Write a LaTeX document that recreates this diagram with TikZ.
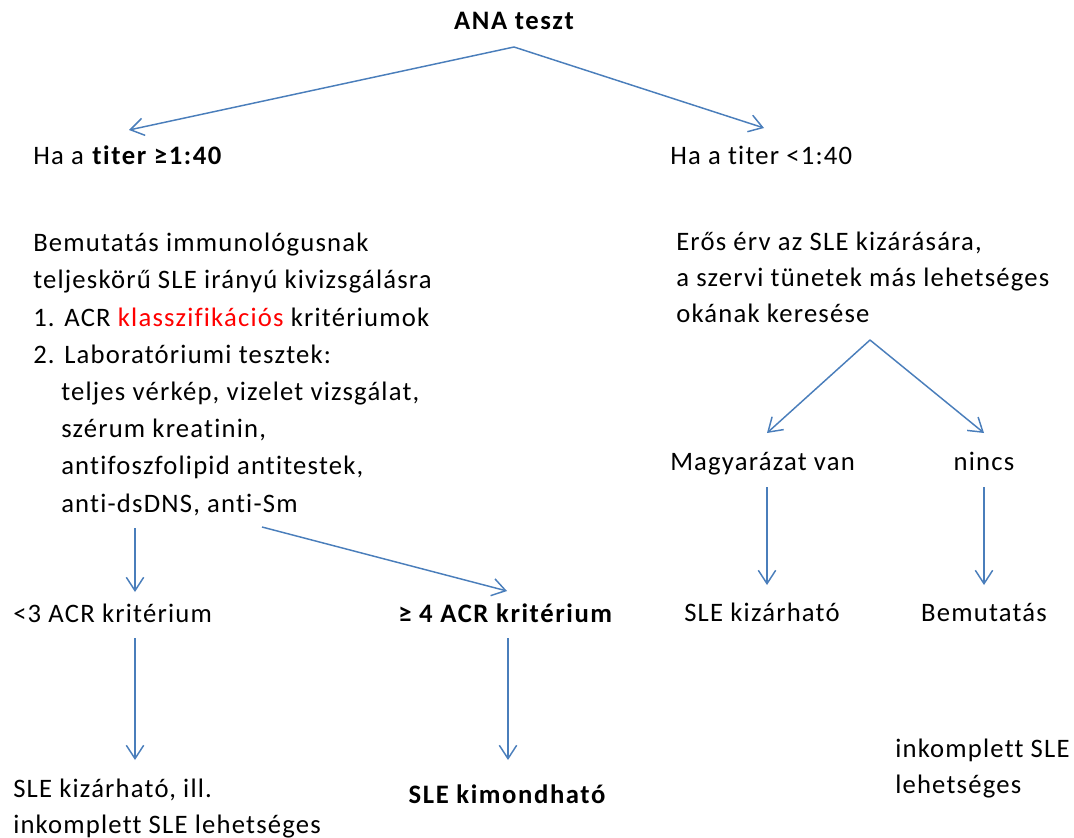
\documentclass[tikz,border=0pt]{standalone}
\usepackage{fontspec}
\setmainfont{Carlito}[LetterSpace=4.5, Ligatures=NoCommon, BoldFeatures={LetterSpace=6}]
\usetikzlibrary{arrows.meta,positioning}
\definecolor{arrblue}{RGB}{74,126,187}

\begin{document}
\begin{tikzpicture}[x=0.75pt, y=-0.75pt,
    every node/.style={font=\fontsize{20}{27.9}\selectfont, inner sep=0pt, align=left},
    bold/.style={font=\fontsize{20}{27}\selectfont\bfseries},
    arr/.style={-{Straight Barb[length=10pt,width=13pt]}, arrblue, line width=1.1pt}]
    \useasboundingbox (0,0) rectangle (1074,838);
    % Top question
    \node[bold, anchor=base] (ana) at (514,30) {ANA teszt};
    \coordinate (anaapex) at (514,47);
    \node[anchor=base west] (titerhi) at (33,165) {Ha a \textbf{titer ≥1:40}};
    \node[anchor=base west] (titerlo) at (670,165) {Ha a titer <1:40};
    \coordinate (titerhitop) at (129,130);
    \coordinate (titerlotop) at (764,128);
    \draw[arr] (anaapex) -- (titerhitop);
    \draw[arr] (anaapex) -- (titerlotop);
    % Left branch (base anchor = last line)
    \node[anchor=base west] (vizsg) at (33,512) {Bemutatás immunológusnak\\
        teljeskörű SLE irányú kivizsgálásra\\
        1. ACR \textcolor{red}{klasszifikációs} kritériumok\\
        2. Laboratóriumi tesztek:\\
        \hspace*{21pt}teljes vérkép, vizelet vizsgálat,\\
        \hspace*{21pt}szérum kreatinin,\\
        \hspace*{21pt}antifoszfolipid antitestek,\\
        \hspace*{21pt}anti-dsDNS, anti-Sm};
    \node[anchor=base west] (acrlo) at (13,622) {<3 ACR kritérium};
    \node[bold, anchor=base west] (acrhi) at (398,622) {≥ 4 ACR kritérium};
    \node[anchor=base west, font=\fontsize{20}{27}\selectfont] (kizarill) at (13,833) {SLE kizárható, ill.\\inkomplett SLE lehetséges};
    \node[bold, anchor=base] (kimond) at (507,803) {SLE kimondható};
    \coordinate (vizsgbot) at (135,528);
    \coordinate (vizsgdiag) at (262,527);
    \coordinate (acrlotop) at (135,592);
    \coordinate (acrhitop) at (507,591);
    \coordinate (acrlobot) at (135,638);
    \coordinate (acrhibot) at (508,638);
    \coordinate (kizarilltop) at (135,760);
    \coordinate (kimondtop) at (508,760);
    \draw[arr] (vizsgbot) -- (acrlotop);
    \draw[arr] (vizsgdiag) -- (acrhitop);
    \draw[arr] (acrlobot) -- (kizarilltop);
    \draw[arr] (acrhibot) -- (kimondtop);
    % Right branch
    \node[anchor=base west, font=\fontsize{20}{27}\selectfont] (erv) at (676,322) {Erős érv az SLE kizárására,\\
        a szervi tünetek más lehetséges\\
        okának keresése};
    \coordinate (ervapex) at (870,340);
    \node[anchor=base west] (magy) at (670,470) {Magyarázat van};
    \node[anchor=base] (nincs) at (984,470) {nincs};
    \coordinate (magytop) at (767,433);
    \coordinate (nincstop) at (984,433);
    \draw[arr] (ervapex) -- (magytop);
    \draw[arr] (ervapex) -- (nincstop);
    \node[anchor=base] (kizar) at (762,621) {SLE kizárható};
    \node[anchor=base] (bemut) at (984,621) {Bemutatás};
    \coordinate (magybot) at (767,487);
    \coordinate (nincsbot) at (984,487);
    \coordinate (kizartop) at (767,585);
    \coordinate (bemuttop) at (984,585);
    \draw[arr] (magybot) -- (kizartop);
    \draw[arr] (nincsbot) -- (bemuttop);
    \node[anchor=base west, font=\fontsize{20}{27}\selectfont] (inkompl) at (895,793) {inkomplett SLE\\lehetséges};
\end{tikzpicture}
\end{document}
